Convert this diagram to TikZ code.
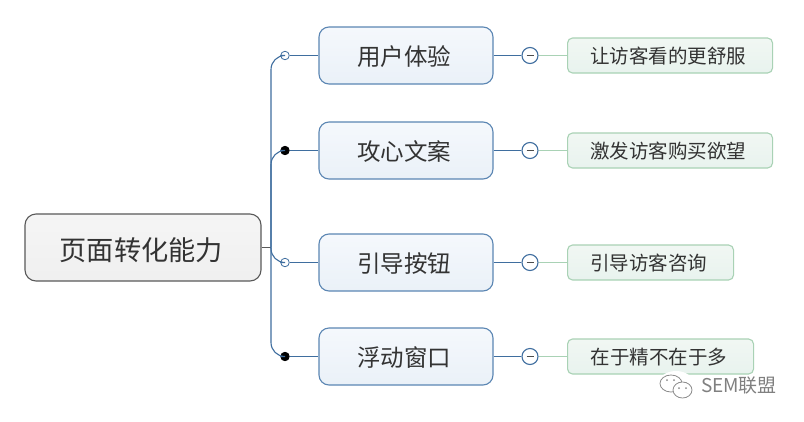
\documentclass[tikz,border=0pt]{standalone}
\usepackage{fontspec}
\setmainfont{Noto Sans CJK SC}
\usepackage{xcolor}
\usetikzlibrary{shadings}
\definecolor{bluedge}{HTML}{5B86B3}
\definecolor{bluelink}{HTML}{3F6E9F}
\definecolor{greenedge}{HTML}{A9D2B5}
\definecolor{textgray}{HTML}{333333}
\definecolor{maintop}{HTML}{F5F8FC}
\definecolor{mainbottom}{HTML}{EAF1F8}
\definecolor{leaftop}{HTML}{F1F7F3}
\definecolor{leafbottom}{HTML}{E8F3EE}

\begin{document}
\begin{tikzpicture}[x=1pt, y=-1pt, line width=1.1pt]
\tikzstyle{textnudge}=[execute at end node={\hspace{3.5pt}}, text depth=1pt]
\tikzstyle{rootbox}=[shape=rectangle, textnudge, text height=26.4pt, draw=black!65, rounded corners=11pt, top color=black!4,
                    bottom color=black!6, text=textgray, minimum width=236pt, minimum height=67pt,
                    inner sep=0pt, font=\fontsize{27.2}{27}\selectfont]
\tikzstyle{mainbox}=[shape=rectangle, textnudge, text height=21.6pt, draw=bluedge, rounded corners=10pt, top color=maintop,
                    bottom color=mainbottom, text=textgray, minimum width=174pt, minimum height=57pt,
                    inner sep=0pt, font=\fontsize{23.5}{24}\selectfont]
\tikzstyle{leafbox}=[shape=rectangle, textnudge, text height=17.4pt, draw=greenedge, rounded corners=5pt, top color=leaftop,
                    bottom color=leafbottom, text=textgray, minimum height=35pt,
                    inner sep=0pt, anchor=west, font=\fontsize{19.5}{20}\selectfont]
\tikzstyle{fork}=[bluelink, rounded corners=14pt]
\tikzstyle{opendot}=[shape=circle, draw=bluelink, fill=white, inner sep=0pt, minimum size=8.5pt, line width=.8pt]
\tikzstyle{fulldot}=[shape=circle, draw=black, fill=black, inner sep=0pt, minimum size=8.5pt, line width=.8pt]
\tikzstyle{toggle}=[shape=circle, draw=bluelink, fill=white, inner sep=0pt, minimum size=16pt,
                    path picture={\draw[black!70, line width=1.2pt] (-3.5pt,0pt) -- (3.5pt,0pt);}]
  \useasboundingbox (0,0) rectangle (804,421);
  \fill[white] (0,0) rectangle (804,421);

  \node[rootbox] (Root) at (143,247.5) {页面转化能力};
  \coordinate (Trunk) at (271,247.5);

  \node[mainbox] (Ux)     at (406,55.5)  {用户体验};
  \node[mainbox] (Copy)   at (406,150.5) {攻心文案};
  \node[mainbox] (Button) at (406,262.5) {引导按钮};
  \node[mainbox] (Float)  at (406,356.5) {浮动窗口};

  \node[opendot] (DotUx)     at (285,55.5)  {};
  \node[fulldot] (DotCopy)   at (285,150.5) {};
  \node[opendot] (DotButton) at (285,262.5) {};
  \node[fulldot] (DotFloat)  at (285,356.5) {};

  \node[toggle] (TogUx)     at (530,55.5)  {};
  \node[toggle] (TogCopy)   at (530,150.5) {};
  \node[toggle] (TogButton) at (530,262.5) {};
  \node[toggle] (TogFloat)  at (530,356.5) {};

  \node[leafbox, minimum width=205pt] (LeafUx)     at (567,55.5)  {让访客看的更舒服};
  \node[leafbox, minimum width=205pt] (LeafCopy)   at (567,150.5) {激发访客购买欲望};
  \node[leafbox, minimum width=166pt] (LeafButton) at (567,262.5) {引导访客咨询};
  \node[leafbox, minimum width=186pt] (LeafFloat)  at (567,356.5) {在于精不在于多};

  \draw[black!65] (Root.east) -- (Trunk);
  \foreach \name in {Ux,Copy,Button,Float} {
    \draw[fork] (Trunk) |- (Dot\name);
    \draw[bluelink] (Dot\name) -- (\name);
    \draw[bluelink] (\name) -- (Tog\name);
    \draw[greenedge] (Tog\name) -- (Leaf\name);
  }

  % watermark
  \fill[white] (676,386) ellipse (19 and 15);
  \draw[black!45, line width=.8pt] (671,383.5) ellipse (11 and 8.5);
  \draw[black!45, line width=.8pt, fill=white] (682.5,390) ellipse (9.5 and 8);
  \foreach \x/\y in {667/380, 674/380, 679/388, 686/388}
    \fill[black!45] (\x,\y) circle (1);
  \node[text=black!50, inner sep=0pt, font=\fontsize{19}{20}\selectfont] (Mark) at (739,386) {SEM联盟};
\end{tikzpicture}
\end{document}
